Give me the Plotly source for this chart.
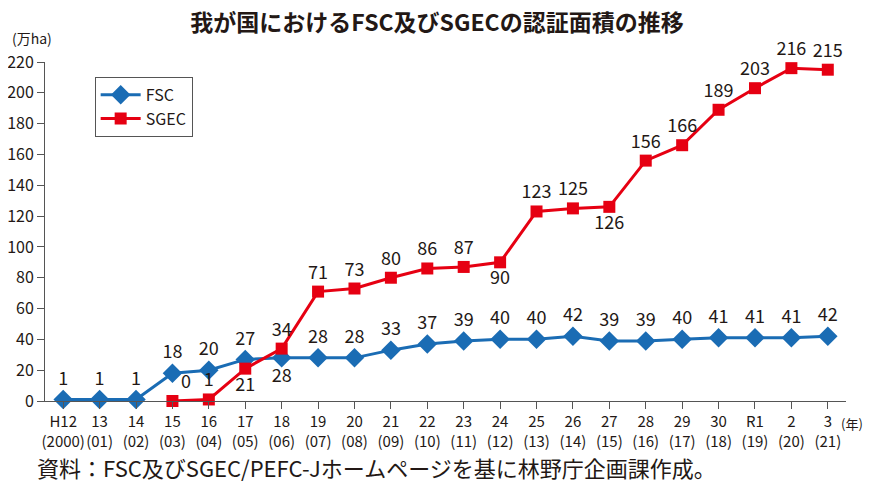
import plotly.graph_objects as go

categories = ["H12<br>(2000)", "13<br>(01)", "14<br>(02)", "15<br>(03)", "16<br>(04)", "17<br>(05)",
              "18<br>(06)", "19<br>(07)", "20<br>(08)", "21<br>(09)", "22<br>(10)", "23<br>(11)",
              "24<br>(12)", "25<br>(13)", "26<br>(14)", "27<br>(15)", "28<br>(16)", "29<br>(17)",
              "30<br>(18)", "R1<br>(19)", "2<br>(20)", "3<br>(21)"]
fsc = [1, 1, 1, 18, 20, 27, 28, 28, 28, 33, 37, 39, 40, 40, 42, 39, 39, 40, 41, 41, 41, 42]
sgec = [None, None, None, 0, 1, 21, 34, 71, 73, 80, 86, 87, 90, 123, 125, 126, 156, 166, 189, 203, 216, 215]

fsc_pos = ["top center"] * len(fsc)
fsc_pos[6] = "bottom center"
sgec_pos = ["top center"] * len(sgec)
for i in (5, 12, 15):
    sgec_pos[i] = "bottom center"
sgec_pos[3] = "top right"

FONT = "Noto Sans CJK JP"
TXT = "#231815"
x = list(range(len(categories)))

fig = go.Figure()
fig.add_trace(go.Scatter(
    x=x, y=fsc, name="FSC", mode="lines+markers+text",
    line=dict(color="#1a6cb4", width=3),
    marker=dict(symbol="diamond", size=15, color="#1a6cb4"),
    text=[str(v) for v in fsc], textposition=fsc_pos,
    textfont=dict(size=18, color=TXT, family=FONT), cliponaxis=False))
fig.add_trace(go.Scatter(
    x=x, y=sgec, name="SGEC", mode="lines+markers+text",
    line=dict(color="#e60012", width=3),
    marker=dict(symbol="square", size=12, color="#e60012"),
    text=["" if v is None else str(v) for v in sgec], textposition=sgec_pos,
    textfont=dict(size=18, color=TXT, family=FONT), cliponaxis=False))

fig.update_layout(
    width=858, height=475,
    margin=dict(l=37, r=20, t=54, b=82, autoexpand=False),
    paper_bgcolor="white", plot_bgcolor="white",
    font=dict(family=FONT, color=TXT, size=15),
    title=dict(text="<b>我が国におけるFSC及びSGECの認証面積の推移</b>", x=0.5, xanchor="center",
               y=0.968, yanchor="middle", font=dict(size=23, color=TXT, family=FONT)),
    showlegend=True,
    legend=dict(x=0.062, y=0.956, xanchor="left", yanchor="top",
                bordercolor="#555555", borderwidth=1, bgcolor="white",
                font=dict(size=16, color=TXT, family=FONT), itemwidth=40,
                tracegroupgap=0),
    xaxis=dict(range=[-0.5, 21.5], tickmode="array", tickvals=x, ticktext=categories,
               tickangle=0, automargin=False,
               showgrid=False, showline=True, linecolor="#555555", linewidth=1,
               ticks="outside", ticklen=7, tickcolor="#555555", tickson="boundaries",
               tickfont=dict(size=15, color=TXT, family=FONT), zeroline=False),
    yaxis=dict(range=[0, 220], tickvals=list(range(0, 221, 20)), automargin=False,
               showgrid=False, showline=True, linecolor="#555555", linewidth=1,
               ticks="outside", ticklen=7, tickcolor="#555555",
               tickfont=dict(size=16, color=TXT, family=FONT), zeroline=False),
)

fig.add_annotation(text="(万ha)", xref="paper", yref="paper", x=-0.044, y=1.072,
                   xanchor="left", yanchor="middle", showarrow=False,
                   font=dict(size=14, color=TXT, family=FONT))
fig.add_annotation(text="(年)", xref="paper", yref="paper", x=1.024, y=-0.066,
                   xanchor="right", yanchor="middle", showarrow=False,
                   font=dict(size=13, color=TXT, family=FONT))
fig.add_annotation(text="資料：FSC及びSGEC/PEFC-Jホームページを基に林野庁企画課作成。", xref="paper", yref="paper",
                   x=-0.012, y=-0.1947, xanchor="left", yanchor="middle", showarrow=False,
                   font=dict(size=22, color=TXT, family=FONT))

fig.write_html("out.html")
